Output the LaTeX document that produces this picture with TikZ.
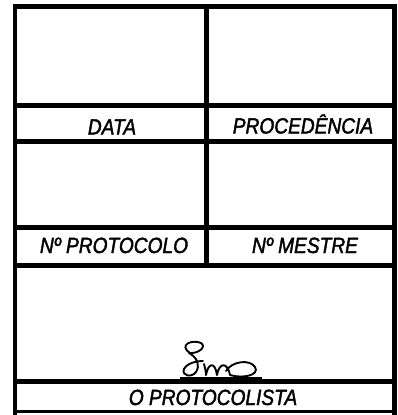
\documentclass[tikz,border=0pt]{standalone}
\usepackage{fontspec}
\newfontfamily\formfont[FakeStretch=0.87,FakeBold=1.8]{Liberation Sans}
\usetikzlibrary{positioning}

\tikzset{rule/.style={line width=4.6pt},
	fieldname/.style={anchor=base,inner sep=0pt,font=\formfont\itshape\fontsize{22}{22}\selectfont},
	sig/.style={line width=1.9pt,line cap=round,line join=round}}

\begin{document}
\begin{tikzpicture}[x=1pt,y=-1pt]
				\useasboundingbox (0,0) rectangle (398,415);
				% frame and rules
				\draw[rule] (13,6.5) -- (397,6.5);
				\draw[rule] (15,4) -- (15,415);
				\draw[rule] (394.5,4) -- (394.5,415);
				\draw[rule] (206.5,6.5) -- (206.5,265.5);
				\draw[rule] (15,105.5) -- (394.5,105.5);
				\draw[rule] (15,141.5) -- (394.5,141.5);
				\draw[rule] (15,227.5) -- (394.5,227.5);
				\draw[rule] (15,265.5) -- (394.5,265.5);
				\draw[rule] (15,381.5) -- (394.5,381.5);
				\draw[line width=3pt] (15,411.5) -- (394.5,411.5);

				\node[fieldname](data) at (112,134.5) {DATA};
				\node[fieldname](procedencia) at (303,133.5) {PROCEDÊNCIA};
				\node[fieldname](protocolo) at (114,253) {Nº PROTOCOLO};
				\node[fieldname](mestre) at (305,253) {Nº MESTRE};
				\node[fieldname](protocolista) at (213,405) {O PROTOCOLISTA};

				% signature
				\draw[sig] (190,353) .. controls (178,345) and (192,339) .. (201,343)
					.. controls (207,347) and (198,354) .. (189,353)
					.. controls (198,358) and (200,366) .. (196,372)
					.. controls (192,378) and (181,376) .. (184,369)
					.. controls (187,363) and (197,361) .. (203,361);
				\draw[sig] (204,364) .. controls (205,368) and (206,372) .. (206,375)
					.. controls (208,363) and (215,361) .. (217,375)
					.. controls (219,363) and (227,361) .. (230,375)
					.. controls (243,379) and (260,375) .. (255,367)
					.. controls (250,359) and (232,361) .. (226,371);
				\draw[line width=2pt] (180,378) -- (262,378);
			\end{tikzpicture}
\end{document}
